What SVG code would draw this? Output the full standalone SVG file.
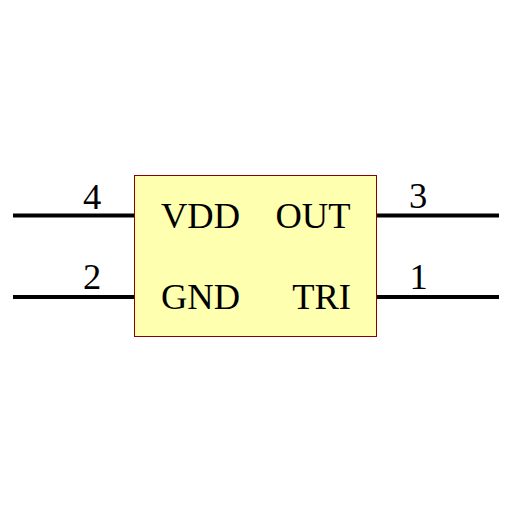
<svg xmlns="http://www.w3.org/2000/svg" width="512" height="512" viewBox="0 0 512 512">
<style>
.pin{stroke:#000;stroke-width:4;fill:none}
text{font-family:"Liberation Serif","Times New Roman",serif;font-size:36.500px;fill:#000}
.e{text-anchor:end}
.num{text-anchor:middle}
</style>
<rect width="512" height="512" fill="#fff"/>
<g id="connectors">
<path class="pin" d="M13 215.500H135"/>
<path class="pin" d="M13 297H135"/>
<path class="pin" d="M377 215.500H499"/>
<path class="pin" d="M377 297H499"/>
</g>
<g id="body"><rect x="134.500" y="175.500" width="242" height="161" fill="#ffffb0" stroke="#8b0000" stroke-width="1"/></g>
<g id="pin4"><text class="num" x="92" y="208.500">4</text><text x="161" y="227.700">VDD</text></g>
<g id="pin2"><text class="num" x="92" y="289">2</text><text x="161" y="308.700">GND</text></g>
<g id="pin3"><text class="num" x="418" y="208">3</text><text class="e" x="350.500" y="227.700">OUT</text></g>
<g id="pin1"><text class="num" x="418.500" y="289">1</text><text class="e" x="351" y="308.700">TRI</text></g>
</svg>
